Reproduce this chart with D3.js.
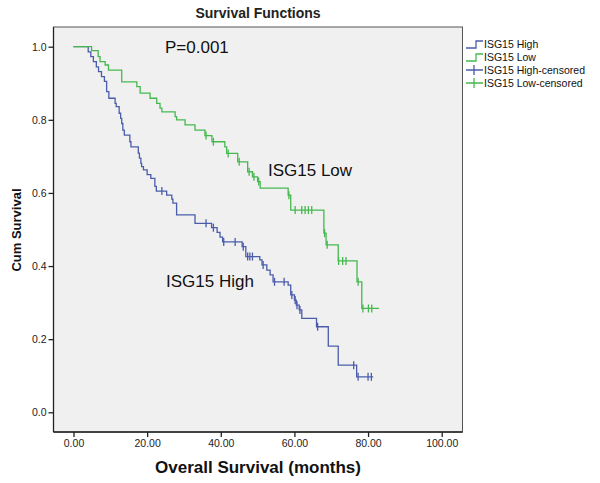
<!DOCTYPE html>
<html>
<head>
<meta charset="utf-8">
<script src="https://cdn.jsdelivr.net/npm/d3@7"></script>
<style>
  html, body { margin: 0; padding: 0; background: #ffffff; }
  svg { display: block; font-family: "Liberation Sans", Arial, sans-serif; }
</style>
</head>
<body>
<svg id="chart" width="600" height="483"></svg>
<script>
// ---- data ----
const seriesNames = ["ISG15 High", "ISG15 Low"];
const legendLabels = ["ISG15 High", "ISG15 Low", "ISG15 High-censored", "ISG15 Low-censored"];

const highTimes = [0, 4.0, 4.7, 5.4, 6.2, 6.8, 7.6, 8.4, 9.0, 9.6, 11.3, 11.6, 12.4, 12.8, 13.1, 13.4, 13.8,
  15.3, 15.6, 17.6, 17.9, 18.3, 18.5, 19.0, 20.0, 21.0, 22.1, 22.5, 25.3, 26.7, 27.0, 28.0, 33.0,
  37.5, 39.0, 39.8, 40.5, 45.8, 46.8, 50.6, 51.2, 52.5, 53.4, 54.2, 58.3, 59.0, 60.0, 60.5, 61.3,
  62.0, 66.0, 69.2, 71.9, 76.9];
const highSurv = [1.0, 0.986, 0.973, 0.959, 0.945, 0.932, 0.918, 0.905, 0.877, 0.859, 0.845, 0.836, 0.818, 0.804, 0.790, 0.772, 0.758,
  0.740, 0.726, 0.709, 0.695, 0.681, 0.672, 0.663, 0.650, 0.640, 0.618, 0.605, 0.594, 0.583, 0.572, 0.540, 0.517,
  0.505, 0.492, 0.479, 0.466, 0.453, 0.426, 0.417, 0.403, 0.389, 0.376, 0.357, 0.348, 0.321, 0.307, 0.293, 0.280,
  0.257, 0.234, 0.181, 0.129, 0.097];
const highCensored = [24.0, 36.0, 38.0, 40.8, 43.9, 46.1, 47.3, 47.9, 48.6, 51.5, 54.6, 57.2, 59.3, 60.2, 60.7,
  61.5, 66.3, 76.1, 77.3, 80.0, 80.9];
const highEnd = 81.4;

const lowTimes = [0, 4.9, 6.7, 7.2, 8.6, 9.5, 13.1, 17.2, 18.1, 20.8, 22.6, 23.5, 24.0, 27.6, 28.0, 30.3, 33.0,
  35.7, 37.6, 41.1, 41.6, 44.6, 47.3, 48.6, 50.0, 50.7, 58.3, 59.0, 68.0, 68.6, 71.9, 77.0, 78.3];
const lowSurv = [1.0, 0.989, 0.973, 0.959, 0.950, 0.936, 0.904, 0.891, 0.873, 0.859, 0.845, 0.832, 0.822, 0.809, 0.800, 0.786, 0.772,
  0.757, 0.740, 0.726, 0.708, 0.685, 0.658, 0.644, 0.631, 0.613, 0.594, 0.553, 0.490, 0.458, 0.414, 0.357, 0.284];
const lowCensored = [36.0, 38.0, 42.0, 45.0, 47.7, 49.0, 50.3, 58.5, 60.2, 62.0, 62.9, 63.8, 64.7, 68.2, 68.9,
  72.0, 73.1, 74.0, 77.3, 78.6, 80.1, 81.0];
const lowEnd = 83.0;

const xTicks = [0, 20, 40, 60, 80, 100];
const yTicks = [0.0, 0.2, 0.4, 0.6, 0.8, 1.0];

// ---- layout ----
const colors = { high: "#4a5caa", low: "#45b84e" };
const box = { left: 53.5, right: 462.5, top: 27, bottom: 432 };

const svg = d3.select("#chart");
const x = d3.scaleLinear().domain([0, 100]).range([73.5, 441.7]);
const y = d3.scaleLinear().domain([0, 1]).range([412.3, 46.7]);

// plot background
svg.append("rect")
  .attr("x", box.left).attr("y", box.top)
  .attr("width", box.right - box.left).attr("height", box.bottom - box.top)
  .attr("fill", "#f0f0f0").attr("stroke", "#555").attr("stroke-width", 1);

// axes
const yAxis = d3.axisLeft(y).tickValues(yTicks).tickFormat(d3.format(".1f")).tickSize(5).tickPadding(2);
const gy = svg.append("g").attr("transform", `translate(${box.left},0)`).call(yAxis);
const xAxis = d3.axisBottom(x).tickValues(xTicks).tickFormat(d3.format(".2f")).tickSize(5).tickPadding(3);
const gx = svg.append("g").attr("transform", `translate(0,${box.bottom})`).call(xAxis);
[gx, gy].forEach(g => {
  g.select(".domain").remove();
  g.selectAll(".tick line").attr("stroke", "#222").attr("stroke-width", 1.3);
  g.selectAll(".tick text").attr("fill", "#222").style("font-size", "10.5px")
    .style("font-family", "'Liberation Sans', Arial, sans-serif");
});
// axis lines (darker left & bottom)
svg.append("line").attr("x1", box.left).attr("x2", box.left).attr("y1", box.top).attr("y2", box.bottom)
  .attr("stroke", "#222").attr("stroke-width", 1.3);
svg.append("line").attr("x1", box.left).attr("x2", box.right).attr("y1", box.bottom).attr("y2", box.bottom)
  .attr("stroke", "#222").attr("stroke-width", 1.3);

// ---- curves ----
function stepPoints(times, surv, end) {
  const pts = times.map((t, i) => [t, surv[i]]);
  pts.push([end, surv[surv.length - 1]]);
  return pts;
}
function survAt(times, surv, t) {
  let s = surv[0];
  for (let i = 0; i < times.length; i++) if (times[i] <= t) s = surv[i];
  return s;
}
const line = d3.line().x(d => x(d[0])).y(d => y(d[1])).curve(d3.curveStepAfter);

const groups = [
  { times: highTimes, surv: highSurv, cens: highCensored, end: highEnd, color: colors.high },
  { times: lowTimes, surv: lowSurv, cens: lowCensored, end: lowEnd, color: colors.low }
];
groups.forEach(g => {
  svg.append("path").datum(stepPoints(g.times, g.surv, g.end))
    .attr("d", line).attr("fill", "none").attr("stroke", g.color).attr("stroke-width", 1.3);
  svg.append("g").selectAll("line").data(g.cens).join("line")
    .attr("x1", d => x(d)).attr("x2", d => x(d))
    .attr("y1", d => y(survAt(g.times, g.surv, d)) - 4)
    .attr("y2", d => y(survAt(g.times, g.surv, d)) + 4)
    .attr("stroke", g.color).attr("stroke-width", 1.3);
});

// ---- text ----
svg.append("text").attr("x", 258).attr("y", 18).attr("text-anchor", "middle")
  .style("font-size", "14px").style("font-weight", "bold").attr("fill", "#222").text("Survival Functions");
svg.append("text").attr("x", 165).attr("y", 53)
  .style("font-size", "17px").attr("fill", "#111").text("P=0.001");
svg.append("text").attr("x", 268).attr("y", 176)
  .style("font-size", "17px").attr("fill", "#111").text(seriesNames[1]);
svg.append("text").attr("x", 166).attr("y", 287)
  .style("font-size", "17px").attr("fill", "#111").text(seriesNames[0]);
svg.append("text").attr("x", 258).attr("y", 473).attr("text-anchor", "middle")
  .style("font-size", "17px").style("font-weight", "bold").attr("fill", "#111").text("Overall Survival (months)");
svg.append("text").attr("transform", "translate(21,230) rotate(-90)").attr("text-anchor", "middle")
  .style("font-size", "13px").style("font-weight", "bold").attr("fill", "#111").text("Cum Survival");

// ---- legend ----
const legendColors = [colors.high, colors.low, colors.high, colors.low];
const leg = svg.append("g").attr("transform", "translate(466,44)");
legendLabels.forEach((lab, i) => {
  const gy0 = i * 13;
  const g = leg.append("g").attr("transform", `translate(0,${gy0})`);
  if (i < 2) {
    g.append("path").attr("d", "M0,4 H10 V-3 H17").attr("fill", "none")
      .attr("stroke", legendColors[i]).attr("stroke-width", 1.3);
  } else {
    g.append("path").attr("d", "M0,0 H17 M8,-5 V5").attr("fill", "none")
      .attr("stroke", legendColors[i]).attr("stroke-width", 1.3);
  }
  g.append("text").attr("x", 18).attr("y", 4).style("font-size", "10.5px").attr("fill", "#111").text(lab);
});
</script>
</body>
</html>
